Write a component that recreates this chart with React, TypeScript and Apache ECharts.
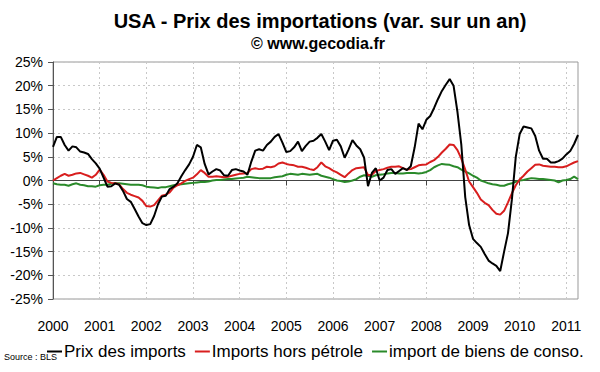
import React, { useEffect, useRef } from 'react';
import * as echarts from 'echarts';

const yearLabels = ['2000', '2001', '2002', '2003', '2004', '2005', '2006', '2007', '2008', '2009', '2010', '2011'];
const monthCount = 136; // Jan 2000 .. Apr 2011

// Prix des imports (var. sur un an, %)
const prixImports = [
  7.1, 9.2, 9.2, 7.5, 6.3, 7.2, 7.0, 6.1, 5.9, 5.6, 4.5, 3.6,
  2.5, 0.6, -1.3, -1.2, -0.6, -0.9, -2.2, -3.9, -4.5, -6.0, -7.6, -9.0,
  -9.4, -9.2, -7.5, -5.0, -3.4, -3.2, -1.8, -1.3, -0.6, 0.9, 2.2, 3.4,
  5.0, 7.5, 7.0, 3.5, 1.3, 1.9, 2.4, 2.1, 1.1, 1.0, 2.2, 2.4,
  2.1, 1.9, 1.2, 4.0, 6.3, 6.6, 6.3, 7.5, 8.2, 9.2, 9.8, 8.0,
  6.0, 6.2, 7.0, 8.2, 6.2, 7.3, 8.2, 8.4, 9.0, 9.8, 8.2, 6.4,
  8.4, 8.6, 7.2, 4.8, 6.5, 8.5, 7.4, 6.6, 4.8, -1.2, 1.6, 2.6,
  0.0, 0.6, 2.2, 2.4, 1.4, 2.0, 2.6, 2.2, 3.0, 7.0, 12.0, 10.8,
  12.8, 13.6, 15.3, 17.2, 18.9, 20.2, 21.4, 20.0, 14.5, 7.5, -3.5, -9.4,
  -12.3, -13.2, -14.0, -15.5, -16.9, -17.5, -18.0, -19.1, -15.0, -11.1, -4.0, 5.0,
  9.8, 11.4, 11.2, 11.0, 9.4, 6.3, 4.6, 4.6, 3.8, 3.8, 4.1, 4.6,
  5.5, 6.2, 7.7, 9.6,
];

// Imports hors pétrole
const horsPetrole = [
  0.0, 0.5, 1.0, 1.4, 1.0, 1.2, 1.5, 1.6, 1.3, 1.0, 0.6, 1.2,
  2.3, 1.2, -0.2, -0.5, -0.6, -0.8, -1.8, -2.6, -3.0, -3.3, -3.6, -4.3,
  -5.4, -5.5, -5.2, -4.2, -3.2, -3.0, -2.5, -1.5, -1.0, -0.6, -0.1, 0.3,
  0.6, 1.3, 2.2, 1.6, 0.8, 0.8, 0.9, 0.8, 0.7, 0.8, 1.0, 1.2,
  1.4, 1.5, 1.6, 2.4, 2.6, 2.4, 2.5, 2.9, 2.8, 3.0, 3.6, 3.8,
  3.5, 3.3, 3.2, 2.9, 2.9, 2.7, 2.4, 2.2, 2.8, 3.8, 3.0, 2.6,
  2.1, 1.7, 1.2, 0.7, 1.5, 2.2, 2.6, 2.7, 2.8, 1.1, 1.2, 2.0,
  2.2, 2.4, 2.7, 2.9, 2.9, 3.0, 2.6, 2.3, 2.4, 2.8, 3.2, 3.3,
  3.4, 3.9, 4.3, 5.0, 5.9, 6.7, 7.6, 7.5, 6.4, 4.6, 2.3, -0.2,
  -1.4, -2.6, -4.0, -4.7, -5.2, -6.2, -7.0, -7.2, -6.4, -4.6, -2.7, -1.0,
  0.2, 1.0, 1.9, 2.6, 3.3, 3.4, 3.1, 3.0, 2.9, 2.9, 2.8, 2.8,
  3.0, 3.4, 3.8, 4.1,
];

// import de biens de conso.
const biensConso = [
  -0.6, -0.8, -0.9, -0.9, -1.1, -0.8, -0.6, -0.9, -1.0, -1.2, -1.2, -1.3,
  -1.0, -0.9, -0.9, -0.7, -0.6, -0.6, -0.7, -0.8, -0.9, -0.9, -0.9, -1.0,
  -1.3, -1.4, -1.5, -1.6, -1.4, -1.4, -1.2, -1.0, -0.9, -0.8, -0.7, -0.6,
  -0.5, -0.4, -0.3, -0.3, -0.2, 0.0, 0.1, 0.1, 0.2, 0.3, 0.3, 0.4,
  0.5, 0.6, 0.8, 0.7, 0.6, 0.5, 0.5, 0.5, 0.5, 0.7, 0.8, 0.9,
  1.2, 1.4, 1.3, 1.2, 1.4, 1.3, 1.2, 1.3, 1.4, 1.0, 0.8, 0.6,
  0.3, 0.0, -0.1, -0.3, -0.2, 0.0, 0.3, 0.8, 1.1, 1.0, 0.8, 1.1,
  1.2, 1.3, 1.5, 1.6, 1.6, 1.5, 1.5, 1.6, 1.6, 1.6, 1.5, 1.6,
  1.8, 2.2, 2.8, 3.2, 3.5, 3.4, 3.3, 3.0, 2.8, 2.3, 1.9, 1.5,
  1.0, 0.6, 0.0, -0.3, -0.6, -0.8, -0.9, -1.1, -1.1, -0.8, -0.6, -0.3,
  0.0, 0.1, 0.3, 0.5, 0.4, 0.3, 0.3, 0.2, 0.1, 0.0, -0.4, 0.0,
  0.1, 0.3, 0.8, 0.3,
];

const seriesNames = ['Prix des imports', 'Imports hors pétrole', 'import de biens de conso.'];
const seriesColors = ['#000000', '#d81e1e', '#2a8a2a'];

const categories: string[] = [];
yearLabels.forEach((y) => {
  for (let m = 1; m <= 12; m++) categories.push(y + '-' + (m < 10 ? '0' + m : m));
});
const months = categories.slice(0, monthCount);

const FONT = '"Liberation Sans", Arial, sans-serif';

export default function App() {
  const ref = useRef<HTMLDivElement>(null);
  useEffect(() => {
    if (!ref.current) return;
    const chart = echarts.init(ref.current, undefined, { renderer: 'svg' });
    const isYear = (i: number) => i % 12 === 0;
    chart.setOption({
      animation: false,
      textStyle: { fontFamily: FONT },
      graphic: [
        {
          type: 'text',
          style: {
            text: 'USA - Prix des importations (var. sur un an)',
            x: 320, y: 21, align: 'center', verticalAlign: 'middle',
            font: 'bold 20px ' + FONT, fill: '#000',
          },
        },
        {
          type: 'text',
          style: {
            text: '© www.gecodia.fr',
            x: 318, y: 43, align: 'center', verticalAlign: 'middle',
            font: 'bold 16px ' + FONT, fill: '#000',
          },
        },
        {
          type: 'text',
          style: {
            text: 'Source : BLS',
            x: 4, y: 357, align: 'left', verticalAlign: 'middle',
            font: '9px ' + FONT, fill: '#000',
          },
        },
      ],
      legend: {
        data: seriesNames,
        left: 42,
        top: 338,
        icon: 'rect',
        itemWidth: 15,
        itemHeight: 2,
        itemGap: 9,
        textStyle: { fontSize: 17, color: '#000', fontFamily: FONT, padding: [0, 0, 0, -3] },
      },
      grid: {
        left: 53, right: 22, top: 62, bottom: 73,
        show: true, borderColor: '#999', borderWidth: 1,
      },
      xAxis: [
        {
          type: 'category',
          data: months,
          boundaryGap: false,
          position: 'bottom',
          axisLine: { show: false, onZero: false },
          axisTick: { show: false },
          axisLabel: {
            interval: (i: number) => isYear(i),
            formatter: (v: string) => v.slice(0, 4),
            margin: 20,
            fontSize: 14,
            color: '#000',
            fontFamily: FONT,
          },
          splitLine: {
            show: true,
            interval: (i: number) => isYear(i),
            lineStyle: { color: '#c8c8c8', type: [2, 3], width: 1 },
          },
        },
        {
          type: 'category',
          data: months,
          boundaryGap: false,
          position: 'top',
          axisLine: { show: true, onZero: true, lineStyle: { color: '#444', width: 1 } },
          axisTick: {
            show: true, inside: true, length: 5,
            interval: (i: number) => isYear(i),
            lineStyle: { color: '#444' },
          },
          axisLabel: { show: false },
          splitLine: { show: false },
        },
      ],
      yAxis: {
        type: 'value',
        min: -25,
        max: 25,
        interval: 5,
        axisLine: { show: true, lineStyle: { color: '#555' } },
        axisTick: { show: true, length: 5, lineStyle: { color: '#555' } },
        axisLabel: {
          formatter: (v: number) => v + '%',
          fontSize: 14,
          color: '#000',
          margin: 10,
          fontFamily: FONT,
        },
        splitLine: { show: true, lineStyle: { color: '#c8c8c8', type: [2, 3], width: 1 } },
      },
      series: [
        { name: seriesNames[0], data: prixImports },
        { name: seriesNames[1], data: horsPetrole },
        { name: seriesNames[2], data: biensConso },
      ].map((s, i) => ({
        ...s,
        type: 'line',
        xAxisIndex: 0,
        showSymbol: false,
        symbol: 'none',
        color: seriesColors[i],
        lineStyle: { color: seriesColors[i], width: 2 },
        z: 10 - i,
      })),
    });
    return () => chart.dispose();
  }, []);
  return (
    <div
      ref={ref}
      style={{ position: 'fixed', left: 0, top: 0, width: 600, height: 372, background: '#fff' }}
    />
  );
}
